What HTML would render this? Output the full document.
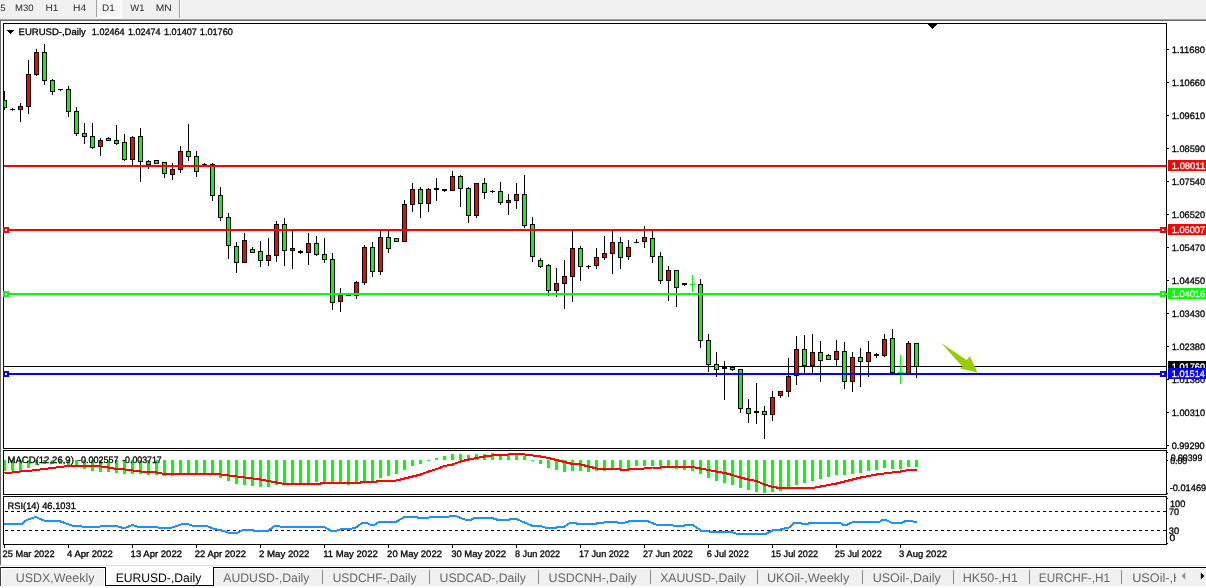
<!DOCTYPE html>
<html><head><meta charset="utf-8"><title>EURUSD-,Daily</title>
<style>
html,body{margin:0;padding:0;background:#fff;overflow:hidden}
svg{display:block;font-family:"Liberation Sans",sans-serif}
</style></head><body>
<svg width="1206" height="588" viewBox="0 0 1206 588" shape-rendering="crispEdges" text-rendering="geometricPrecision">
<rect x="0" y="0" width="1206" height="588" fill="#fff"/>
<rect x="0" y="0" width="1206" height="19" fill="#f0f0f0"/>
<rect x="0" y="19" width="1206" height="1" fill="#a0a0a0"/>
<rect x="0" y="20" width="1206" height="1" fill="#696969"/>
<rect x="0" y="20" width="1" height="545" fill="#696969"/>
<rect x="96" y="0" width="1" height="17" fill="#a0a0a0"/>
<defs><pattern id="ck" x="97" y="0" width="2" height="2" patternUnits="userSpaceOnUse"><rect width="2" height="2" fill="#fff"/><rect x="0" y="0" width="1" height="1" fill="#f0f0f0"/><rect x="1" y="1" width="1" height="1" fill="#f0f0f0"/></pattern></defs>
<rect x="97" y="0" width="24" height="17" fill="url(#ck)"/>
<rect x="97" y="17" width="25" height="1" fill="#fff"/>
<rect x="121" y="0" width="1" height="18" fill="#fff"/>
<rect x="179" y="0" width="1" height="18" fill="#a0a0a0"/>
<rect x="180" y="0" width="1" height="18" fill="#fff"/>
<text x="0.3" y="11.1" font-size="9.33" fill="#2a2a2a" stroke="#2a2a2a" stroke-width="0" textLength="5.3" lengthAdjust="spacingAndGlyphs">5</text>
<text x="15.04" y="11.1" font-size="9.33" fill="#2a2a2a" stroke="#2a2a2a" stroke-width="0" textLength="18.5" lengthAdjust="spacingAndGlyphs">M30</text>
<text x="45.59" y="11.1" font-size="9.33" fill="#2a2a2a" stroke="#2a2a2a" stroke-width="0" textLength="12.89" lengthAdjust="spacingAndGlyphs">H1</text>
<text x="72.97" y="11.1" font-size="9.33" fill="#2a2a2a" stroke="#2a2a2a" stroke-width="0" textLength="13.22" lengthAdjust="spacingAndGlyphs">H4</text>
<text x="102.01" y="11.1" font-size="9.33" fill="#2a2a2a" stroke="#2a2a2a" stroke-width="0" textLength="12.67" lengthAdjust="spacingAndGlyphs">D1</text>
<text x="130.2" y="11.1" font-size="9.33" fill="#2a2a2a" stroke="#2a2a2a" stroke-width="0" textLength="14.23" lengthAdjust="spacingAndGlyphs">W1</text>
<text x="155.78" y="11.1" font-size="9.33" fill="#2a2a2a" stroke="#2a2a2a" stroke-width="0" textLength="16.0" lengthAdjust="spacingAndGlyphs">MN</text>
<rect x="3" y="23" width="1164" height="1" fill="#000"/>
<rect x="3" y="448" width="1164" height="1" fill="#000"/>
<rect x="3" y="23" width="1" height="426" fill="#000"/>
<rect x="1166" y="23" width="1" height="426" fill="#000"/>
<rect x="3" y="450" width="1164" height="1" fill="#000"/>
<rect x="3" y="494" width="1164" height="1" fill="#000"/>
<rect x="3" y="450" width="1" height="45" fill="#000"/>
<rect x="1166" y="450" width="1" height="45" fill="#000"/>
<rect x="3" y="496" width="1164" height="1" fill="#000"/>
<rect x="3" y="544" width="1164" height="1" fill="#000"/>
<rect x="3" y="496" width="1" height="49" fill="#000"/>
<rect x="1166" y="496" width="1" height="49" fill="#000"/>
<rect x="928" y="24" width="9" height="1" fill="#000"/>
<rect x="929" y="25" width="7" height="1" fill="#000"/>
<rect x="930" y="26" width="5" height="1" fill="#000"/>
<rect x="931" y="27" width="3" height="1" fill="#000"/>
<rect x="932" y="28" width="1" height="1" fill="#000"/>
<rect x="4" y="366" width="1162" height="1" fill="#000"/>
<g id="candles">
<rect x="4" y="91" width="1" height="19" fill="#000"/>
<rect x="4" y="100" width="3" height="8" fill="#000"/>
<rect x="4" y="101" width="2" height="6" fill="#00ff00"/>
<rect x="12" y="108" width="1" height="3" fill="#000"/>
<rect x="10" y="109" width="5" height="1" fill="#000"/>
<rect x="20" y="103" width="1" height="19" fill="#000"/>
<rect x="18" y="106" width="5" height="4" fill="#000"/>
<rect x="19" y="107" width="3" height="2" fill="#ff0000"/>
<rect x="28" y="60" width="1" height="54" fill="#000"/>
<rect x="26" y="74" width="5" height="33" fill="#000"/>
<rect x="27" y="75" width="3" height="31" fill="#ff0000"/>
<rect x="36" y="49" width="1" height="27" fill="#000"/>
<rect x="34" y="52" width="5" height="23" fill="#000"/>
<rect x="35" y="53" width="3" height="21" fill="#ff0000"/>
<rect x="44" y="44" width="1" height="41" fill="#000"/>
<rect x="42" y="52" width="5" height="29" fill="#000"/>
<rect x="43" y="53" width="3" height="27" fill="#00ff00"/>
<rect x="52" y="79" width="1" height="16" fill="#000"/>
<rect x="50" y="80" width="5" height="12" fill="#000"/>
<rect x="51" y="81" width="3" height="10" fill="#00ff00"/>
<rect x="60" y="89" width="1" height="2" fill="#000"/>
<rect x="58" y="89" width="5" height="1" fill="#000"/>
<rect x="68" y="86" width="1" height="31" fill="#000"/>
<rect x="66" y="89" width="5" height="23" fill="#000"/>
<rect x="67" y="90" width="3" height="21" fill="#00ff00"/>
<rect x="76" y="107" width="1" height="29" fill="#000"/>
<rect x="74" y="111" width="5" height="23" fill="#000"/>
<rect x="75" y="112" width="3" height="21" fill="#00ff00"/>
<rect x="84" y="123" width="1" height="21" fill="#000"/>
<rect x="82" y="133" width="5" height="4" fill="#000"/>
<rect x="83" y="134" width="3" height="2" fill="#00ff00"/>
<rect x="92" y="123" width="1" height="26" fill="#000"/>
<rect x="90" y="136" width="5" height="12" fill="#000"/>
<rect x="91" y="137" width="3" height="10" fill="#00ff00"/>
<rect x="100" y="138" width="1" height="18" fill="#000"/>
<rect x="98" y="140" width="5" height="7" fill="#000"/>
<rect x="99" y="141" width="3" height="5" fill="#ff0000"/>
<rect x="108" y="137" width="1" height="4" fill="#000"/>
<rect x="106" y="138" width="5" height="3" fill="#000"/>
<rect x="107" y="139" width="3" height="1" fill="#00ff00"/>
<rect x="116" y="125" width="1" height="20" fill="#000"/>
<rect x="114" y="140" width="5" height="4" fill="#000"/>
<rect x="115" y="141" width="3" height="2" fill="#00ff00"/>
<rect x="124" y="134" width="1" height="27" fill="#000"/>
<rect x="122" y="142" width="5" height="18" fill="#000"/>
<rect x="123" y="143" width="3" height="16" fill="#00ff00"/>
<rect x="132" y="136" width="1" height="29" fill="#000"/>
<rect x="130" y="137" width="5" height="23" fill="#000"/>
<rect x="131" y="138" width="3" height="21" fill="#ff0000"/>
<rect x="140" y="128" width="1" height="54" fill="#000"/>
<rect x="138" y="136" width="5" height="26" fill="#000"/>
<rect x="139" y="137" width="3" height="24" fill="#00ff00"/>
<rect x="148" y="160" width="1" height="9" fill="#000"/>
<rect x="146" y="161" width="5" height="4" fill="#000"/>
<rect x="147" y="162" width="3" height="2" fill="#00ff00"/>
<rect x="156" y="160" width="1" height="4" fill="#000"/>
<rect x="154" y="160" width="5" height="4" fill="#000"/>
<rect x="155" y="161" width="3" height="2" fill="#00ff00"/>
<rect x="164" y="162" width="1" height="16" fill="#000"/>
<rect x="162" y="162" width="5" height="12" fill="#000"/>
<rect x="163" y="163" width="3" height="10" fill="#00ff00"/>
<rect x="172" y="163" width="1" height="17" fill="#000"/>
<rect x="170" y="169" width="5" height="6" fill="#000"/>
<rect x="171" y="170" width="3" height="4" fill="#ff0000"/>
<rect x="180" y="146" width="1" height="27" fill="#000"/>
<rect x="178" y="151" width="5" height="19" fill="#000"/>
<rect x="179" y="152" width="3" height="17" fill="#ff0000"/>
<rect x="188" y="124" width="1" height="37" fill="#000"/>
<rect x="186" y="151" width="5" height="6" fill="#000"/>
<rect x="187" y="152" width="3" height="4" fill="#00ff00"/>
<rect x="196" y="151" width="1" height="26" fill="#000"/>
<rect x="194" y="156" width="5" height="16" fill="#000"/>
<rect x="195" y="157" width="3" height="14" fill="#00ff00"/>
<rect x="204" y="163" width="1" height="2" fill="#000"/>
<rect x="202" y="164" width="5" height="1" fill="#000"/>
<rect x="212" y="163" width="1" height="38" fill="#000"/>
<rect x="210" y="164" width="5" height="32" fill="#000"/>
<rect x="211" y="165" width="3" height="30" fill="#00ff00"/>
<rect x="220" y="187" width="1" height="34" fill="#000"/>
<rect x="218" y="195" width="5" height="23" fill="#000"/>
<rect x="219" y="196" width="3" height="21" fill="#00ff00"/>
<rect x="228" y="213" width="1" height="46" fill="#000"/>
<rect x="226" y="217" width="5" height="29" fill="#000"/>
<rect x="227" y="218" width="3" height="27" fill="#00ff00"/>
<rect x="236" y="242" width="1" height="31" fill="#000"/>
<rect x="234" y="246" width="5" height="17" fill="#000"/>
<rect x="235" y="247" width="3" height="15" fill="#00ff00"/>
<rect x="244" y="233" width="1" height="30" fill="#000"/>
<rect x="242" y="240" width="5" height="23" fill="#000"/>
<rect x="243" y="241" width="3" height="21" fill="#ff0000"/>
<rect x="252" y="247" width="1" height="6" fill="#000"/>
<rect x="250" y="249" width="5" height="4" fill="#000"/>
<rect x="251" y="250" width="3" height="2" fill="#00ff00"/>
<rect x="260" y="241" width="1" height="26" fill="#000"/>
<rect x="258" y="251" width="5" height="10" fill="#000"/>
<rect x="259" y="252" width="3" height="8" fill="#00ff00"/>
<rect x="268" y="238" width="1" height="28" fill="#000"/>
<rect x="266" y="255" width="5" height="6" fill="#000"/>
<rect x="267" y="256" width="3" height="4" fill="#ff0000"/>
<rect x="276" y="221" width="1" height="41" fill="#000"/>
<rect x="274" y="224" width="5" height="32" fill="#000"/>
<rect x="275" y="225" width="3" height="30" fill="#ff0000"/>
<rect x="284" y="218" width="1" height="48" fill="#000"/>
<rect x="282" y="224" width="5" height="27" fill="#000"/>
<rect x="283" y="225" width="3" height="25" fill="#00ff00"/>
<rect x="292" y="231" width="1" height="38" fill="#000"/>
<rect x="290" y="248" width="5" height="3" fill="#000"/>
<rect x="291" y="249" width="3" height="1" fill="#ff0000"/>
<rect x="300" y="250" width="1" height="4" fill="#000"/>
<rect x="298" y="251" width="5" height="2" fill="#000"/>
<rect x="308" y="233" width="1" height="32" fill="#000"/>
<rect x="306" y="243" width="5" height="10" fill="#000"/>
<rect x="307" y="244" width="3" height="8" fill="#ff0000"/>
<rect x="316" y="236" width="1" height="20" fill="#000"/>
<rect x="314" y="243" width="5" height="12" fill="#000"/>
<rect x="315" y="244" width="3" height="10" fill="#00ff00"/>
<rect x="324" y="238" width="1" height="25" fill="#000"/>
<rect x="322" y="254" width="5" height="6" fill="#000"/>
<rect x="323" y="255" width="3" height="4" fill="#00ff00"/>
<rect x="332" y="253" width="1" height="57" fill="#000"/>
<rect x="330" y="259" width="5" height="44" fill="#000"/>
<rect x="331" y="260" width="3" height="42" fill="#00ff00"/>
<rect x="340" y="288" width="1" height="24" fill="#000"/>
<rect x="338" y="295" width="5" height="7" fill="#000"/>
<rect x="339" y="296" width="3" height="5" fill="#ff0000"/>
<rect x="348" y="295" width="1" height="1" fill="#000"/>
<rect x="346" y="295" width="5" height="1" fill="#000"/>
<rect x="356" y="281" width="1" height="18" fill="#000"/>
<rect x="354" y="282" width="5" height="14" fill="#000"/>
<rect x="355" y="283" width="3" height="12" fill="#ff0000"/>
<rect x="364" y="245" width="1" height="40" fill="#000"/>
<rect x="362" y="247" width="5" height="36" fill="#000"/>
<rect x="363" y="248" width="3" height="34" fill="#ff0000"/>
<rect x="372" y="242" width="1" height="35" fill="#000"/>
<rect x="370" y="247" width="5" height="25" fill="#000"/>
<rect x="371" y="248" width="3" height="23" fill="#00ff00"/>
<rect x="380" y="231" width="1" height="44" fill="#000"/>
<rect x="378" y="237" width="5" height="35" fill="#000"/>
<rect x="379" y="238" width="3" height="33" fill="#ff0000"/>
<rect x="388" y="231" width="1" height="22" fill="#000"/>
<rect x="386" y="237" width="5" height="12" fill="#000"/>
<rect x="387" y="238" width="3" height="10" fill="#00ff00"/>
<rect x="396" y="238" width="1" height="4" fill="#000"/>
<rect x="394" y="238" width="5" height="4" fill="#000"/>
<rect x="395" y="239" width="3" height="2" fill="#00ff00"/>
<rect x="404" y="200" width="1" height="42" fill="#000"/>
<rect x="402" y="204" width="5" height="38" fill="#000"/>
<rect x="403" y="205" width="3" height="36" fill="#ff0000"/>
<rect x="412" y="183" width="1" height="29" fill="#000"/>
<rect x="410" y="189" width="5" height="16" fill="#000"/>
<rect x="411" y="190" width="3" height="14" fill="#ff0000"/>
<rect x="420" y="187" width="1" height="31" fill="#000"/>
<rect x="418" y="189" width="5" height="15" fill="#000"/>
<rect x="419" y="190" width="3" height="13" fill="#00ff00"/>
<rect x="428" y="188" width="1" height="24" fill="#000"/>
<rect x="426" y="189" width="5" height="15" fill="#000"/>
<rect x="427" y="190" width="3" height="13" fill="#ff0000"/>
<rect x="436" y="178" width="1" height="23" fill="#000"/>
<rect x="434" y="188" width="5" height="2" fill="#000"/>
<rect x="444" y="189" width="1" height="3" fill="#000"/>
<rect x="442" y="189" width="5" height="2" fill="#000"/>
<rect x="452" y="171" width="1" height="20" fill="#000"/>
<rect x="450" y="176" width="5" height="15" fill="#000"/>
<rect x="451" y="177" width="3" height="13" fill="#ff0000"/>
<rect x="460" y="175" width="1" height="32" fill="#000"/>
<rect x="458" y="176" width="5" height="13" fill="#000"/>
<rect x="459" y="177" width="3" height="11" fill="#00ff00"/>
<rect x="468" y="187" width="1" height="36" fill="#000"/>
<rect x="466" y="188" width="5" height="28" fill="#000"/>
<rect x="467" y="189" width="3" height="26" fill="#00ff00"/>
<rect x="476" y="183" width="1" height="35" fill="#000"/>
<rect x="474" y="183" width="5" height="33" fill="#000"/>
<rect x="475" y="184" width="3" height="31" fill="#ff0000"/>
<rect x="484" y="178" width="1" height="21" fill="#000"/>
<rect x="482" y="183" width="5" height="10" fill="#000"/>
<rect x="483" y="184" width="3" height="8" fill="#00ff00"/>
<rect x="492" y="190" width="1" height="3" fill="#000"/>
<rect x="490" y="191" width="5" height="1" fill="#000"/>
<rect x="500" y="182" width="1" height="23" fill="#000"/>
<rect x="498" y="191" width="5" height="12" fill="#000"/>
<rect x="499" y="192" width="3" height="10" fill="#00ff00"/>
<rect x="508" y="194" width="1" height="21" fill="#000"/>
<rect x="506" y="200" width="5" height="3" fill="#000"/>
<rect x="507" y="201" width="3" height="1" fill="#ff0000"/>
<rect x="516" y="183" width="1" height="26" fill="#000"/>
<rect x="514" y="194" width="5" height="7" fill="#000"/>
<rect x="515" y="195" width="3" height="5" fill="#ff0000"/>
<rect x="524" y="175" width="1" height="53" fill="#000"/>
<rect x="522" y="194" width="5" height="32" fill="#000"/>
<rect x="523" y="195" width="3" height="30" fill="#00ff00"/>
<rect x="532" y="217" width="1" height="45" fill="#000"/>
<rect x="530" y="224" width="5" height="33" fill="#000"/>
<rect x="531" y="225" width="3" height="31" fill="#00ff00"/>
<rect x="540" y="258" width="1" height="10" fill="#000"/>
<rect x="538" y="260" width="5" height="7" fill="#000"/>
<rect x="539" y="261" width="3" height="5" fill="#00ff00"/>
<rect x="548" y="264" width="1" height="32" fill="#000"/>
<rect x="546" y="265" width="5" height="26" fill="#000"/>
<rect x="547" y="266" width="3" height="24" fill="#00ff00"/>
<rect x="556" y="268" width="1" height="29" fill="#000"/>
<rect x="554" y="283" width="5" height="8" fill="#000"/>
<rect x="555" y="284" width="3" height="6" fill="#ff0000"/>
<rect x="564" y="260" width="1" height="49" fill="#000"/>
<rect x="562" y="276" width="5" height="8" fill="#000"/>
<rect x="563" y="277" width="3" height="6" fill="#ff0000"/>
<rect x="572" y="231" width="1" height="71" fill="#000"/>
<rect x="570" y="248" width="5" height="29" fill="#000"/>
<rect x="571" y="249" width="3" height="27" fill="#ff0000"/>
<rect x="580" y="246" width="1" height="35" fill="#000"/>
<rect x="578" y="248" width="5" height="19" fill="#000"/>
<rect x="579" y="249" width="3" height="17" fill="#00ff00"/>
<rect x="588" y="265" width="1" height="4" fill="#000"/>
<rect x="586" y="266" width="5" height="1" fill="#000"/>
<rect x="596" y="248" width="1" height="21" fill="#000"/>
<rect x="594" y="257" width="5" height="9" fill="#000"/>
<rect x="595" y="258" width="3" height="7" fill="#ff0000"/>
<rect x="604" y="236" width="1" height="24" fill="#000"/>
<rect x="602" y="253" width="5" height="5" fill="#000"/>
<rect x="603" y="254" width="3" height="3" fill="#ff0000"/>
<rect x="612" y="231" width="1" height="43" fill="#000"/>
<rect x="610" y="242" width="5" height="12" fill="#000"/>
<rect x="611" y="243" width="3" height="10" fill="#ff0000"/>
<rect x="620" y="237" width="1" height="32" fill="#000"/>
<rect x="618" y="242" width="5" height="16" fill="#000"/>
<rect x="619" y="243" width="3" height="14" fill="#00ff00"/>
<rect x="628" y="240" width="1" height="20" fill="#000"/>
<rect x="626" y="247" width="5" height="10" fill="#000"/>
<rect x="627" y="248" width="3" height="8" fill="#ff0000"/>
<rect x="636" y="239" width="1" height="4" fill="#000"/>
<rect x="634" y="242" width="5" height="1" fill="#000"/>
<rect x="644" y="226" width="1" height="22" fill="#000"/>
<rect x="642" y="237" width="5" height="5" fill="#000"/>
<rect x="643" y="238" width="3" height="3" fill="#ff0000"/>
<rect x="652" y="231" width="1" height="32" fill="#000"/>
<rect x="650" y="238" width="5" height="19" fill="#000"/>
<rect x="651" y="239" width="3" height="17" fill="#00ff00"/>
<rect x="660" y="252" width="1" height="32" fill="#000"/>
<rect x="658" y="256" width="5" height="25" fill="#000"/>
<rect x="659" y="257" width="3" height="23" fill="#00ff00"/>
<rect x="668" y="266" width="1" height="35" fill="#000"/>
<rect x="666" y="270" width="5" height="11" fill="#000"/>
<rect x="667" y="271" width="3" height="9" fill="#ff0000"/>
<rect x="676" y="270" width="1" height="37" fill="#000"/>
<rect x="674" y="270" width="5" height="18" fill="#000"/>
<rect x="675" y="271" width="3" height="16" fill="#00ff00"/>
<rect x="684" y="283" width="1" height="3" fill="#000"/>
<rect x="682" y="283" width="5" height="2" fill="#000"/>
<rect x="692" y="275" width="1" height="17" fill="#00ff00"/>
<rect x="690" y="284" width="5" height="1" fill="#00ff00"/>
<rect x="700" y="279" width="1" height="69" fill="#000"/>
<rect x="698" y="284" width="5" height="57" fill="#000"/>
<rect x="699" y="285" width="3" height="55" fill="#00ff00"/>
<rect x="708" y="334" width="1" height="38" fill="#000"/>
<rect x="706" y="340" width="5" height="25" fill="#000"/>
<rect x="707" y="341" width="3" height="23" fill="#00ff00"/>
<rect x="716" y="352" width="1" height="25" fill="#000"/>
<rect x="714" y="364" width="5" height="6" fill="#000"/>
<rect x="715" y="365" width="3" height="4" fill="#00ff00"/>
<rect x="724" y="361" width="1" height="39" fill="#000"/>
<rect x="722" y="366" width="5" height="3" fill="#000"/>
<rect x="732" y="367" width="1" height="4" fill="#000"/>
<rect x="730" y="367" width="5" height="3" fill="#000"/>
<rect x="731" y="368" width="3" height="1" fill="#00ff00"/>
<rect x="740" y="369" width="1" height="44" fill="#000"/>
<rect x="738" y="369" width="5" height="40" fill="#000"/>
<rect x="739" y="370" width="3" height="38" fill="#00ff00"/>
<rect x="748" y="399" width="1" height="24" fill="#000"/>
<rect x="746" y="408" width="5" height="6" fill="#000"/>
<rect x="747" y="409" width="3" height="4" fill="#00ff00"/>
<rect x="756" y="383" width="1" height="41" fill="#000"/>
<rect x="754" y="411" width="5" height="2" fill="#000"/>
<rect x="764" y="406" width="1" height="33" fill="#000"/>
<rect x="762" y="411" width="5" height="4" fill="#000"/>
<rect x="763" y="412" width="3" height="2" fill="#00ff00"/>
<rect x="772" y="391" width="1" height="30" fill="#000"/>
<rect x="770" y="397" width="5" height="18" fill="#000"/>
<rect x="771" y="398" width="3" height="16" fill="#ff0000"/>
<rect x="780" y="391" width="1" height="7" fill="#000"/>
<rect x="778" y="391" width="5" height="5" fill="#000"/>
<rect x="779" y="392" width="3" height="3" fill="#ff0000"/>
<rect x="788" y="358" width="1" height="39" fill="#000"/>
<rect x="786" y="376" width="5" height="16" fill="#000"/>
<rect x="787" y="377" width="3" height="14" fill="#ff0000"/>
<rect x="796" y="336" width="1" height="49" fill="#000"/>
<rect x="794" y="349" width="5" height="27" fill="#000"/>
<rect x="795" y="350" width="3" height="25" fill="#ff0000"/>
<rect x="804" y="335" width="1" height="38" fill="#000"/>
<rect x="802" y="349" width="5" height="17" fill="#000"/>
<rect x="803" y="350" width="3" height="15" fill="#00ff00"/>
<rect x="812" y="334" width="1" height="39" fill="#000"/>
<rect x="810" y="352" width="5" height="14" fill="#000"/>
<rect x="811" y="353" width="3" height="12" fill="#ff0000"/>
<rect x="820" y="341" width="1" height="41" fill="#000"/>
<rect x="818" y="352" width="5" height="9" fill="#000"/>
<rect x="819" y="353" width="3" height="7" fill="#00ff00"/>
<rect x="828" y="354" width="1" height="6" fill="#000"/>
<rect x="826" y="355" width="5" height="5" fill="#000"/>
<rect x="827" y="356" width="3" height="3" fill="#00ff00"/>
<rect x="836" y="340" width="1" height="27" fill="#000"/>
<rect x="834" y="351" width="5" height="9" fill="#000"/>
<rect x="835" y="352" width="3" height="7" fill="#ff0000"/>
<rect x="844" y="342" width="1" height="47" fill="#000"/>
<rect x="842" y="351" width="5" height="31" fill="#000"/>
<rect x="843" y="352" width="3" height="29" fill="#00ff00"/>
<rect x="852" y="352" width="1" height="40" fill="#000"/>
<rect x="850" y="357" width="5" height="25" fill="#000"/>
<rect x="851" y="358" width="3" height="23" fill="#ff0000"/>
<rect x="860" y="348" width="1" height="39" fill="#000"/>
<rect x="858" y="357" width="5" height="5" fill="#000"/>
<rect x="859" y="358" width="3" height="3" fill="#00ff00"/>
<rect x="868" y="341" width="1" height="36" fill="#000"/>
<rect x="866" y="352" width="5" height="10" fill="#000"/>
<rect x="867" y="353" width="3" height="8" fill="#ff0000"/>
<rect x="876" y="353" width="1" height="5" fill="#000"/>
<rect x="874" y="354" width="5" height="2" fill="#000"/>
<rect x="884" y="334" width="1" height="23" fill="#000"/>
<rect x="882" y="339" width="5" height="17" fill="#000"/>
<rect x="883" y="340" width="3" height="15" fill="#ff0000"/>
<rect x="892" y="329" width="1" height="44" fill="#000"/>
<rect x="890" y="338" width="5" height="35" fill="#000"/>
<rect x="891" y="339" width="3" height="33" fill="#00ff00"/>
<rect x="900" y="355" width="1" height="29" fill="#00ff00"/>
<rect x="898" y="372" width="5" height="1" fill="#00ff00"/>
<rect x="908" y="341" width="1" height="33" fill="#000"/>
<rect x="906" y="343" width="5" height="31" fill="#000"/>
<rect x="907" y="344" width="3" height="29" fill="#ff0000"/>
<rect x="916" y="343" width="1" height="35" fill="#000"/>
<rect x="914" y="343" width="5" height="24" fill="#000"/>
<rect x="915" y="344" width="3" height="22" fill="#00ff00"/>
</g>
<rect x="4" y="165" width="1162" height="2" fill="#ff0000"/>
<rect x="4" y="229" width="1163" height="2" fill="#ff0000"/>
<rect x="3" y="227" width="6" height="6" fill="#ff0000"/>
<rect x="5" y="229" width="2" height="2" fill="#fff"/>
<rect x="1160" y="227" width="6" height="6" fill="#ff0000"/>
<rect x="1162" y="229" width="2" height="2" fill="#fff"/>
<rect x="4" y="293" width="1163" height="2" fill="#00ff00"/>
<rect x="3" y="291" width="6" height="6" fill="#00ff00"/>
<rect x="5" y="293" width="2" height="2" fill="#fff"/>
<rect x="1160" y="291" width="6" height="6" fill="#00ff00"/>
<rect x="1162" y="293" width="2" height="2" fill="#fff"/>
<rect x="4" y="373" width="1163" height="2" fill="#0000ff"/>
<rect x="3" y="371" width="6" height="6" fill="#0000ff"/>
<rect x="5" y="373" width="2" height="2" fill="#fff"/>
<rect x="1160" y="371" width="6" height="6" fill="#0000ff"/>
<rect x="1162" y="373" width="2" height="2" fill="#fff"/>
<polygon points="941.1,343 966.6,360.1 969.9,356.3 977.6,372.6 960.2,368.4 962.1,366.2" fill="#99cc00" shape-rendering="geometricPrecision"/>
<rect x="1167" y="49" width="2" height="1" fill="#000"/>
<text x="1171.69" y="52.6" font-size="9.33" fill="#000" stroke="#000" stroke-width="0.3" textLength="33.34" lengthAdjust="spacingAndGlyphs">1.11680</text>
<rect x="1167" y="82" width="2" height="1" fill="#000"/>
<text x="1171.71" y="85.6" font-size="9.33" fill="#000" stroke="#000" stroke-width="0.3" textLength="33.31" lengthAdjust="spacingAndGlyphs">1.10660</text>
<rect x="1167" y="115" width="2" height="1" fill="#000"/>
<text x="1171.71" y="118.6" font-size="9.33" fill="#000" stroke="#000" stroke-width="0.3" textLength="33.31" lengthAdjust="spacingAndGlyphs">1.09610</text>
<rect x="1167" y="148" width="2" height="1" fill="#000"/>
<text x="1171.71" y="151.6" font-size="9.33" fill="#000" stroke="#000" stroke-width="0.3" textLength="33.31" lengthAdjust="spacingAndGlyphs">1.08590</text>
<rect x="1167" y="181" width="2" height="1" fill="#000"/>
<text x="1171.71" y="184.6" font-size="9.33" fill="#000" stroke="#000" stroke-width="0.3" textLength="33.31" lengthAdjust="spacingAndGlyphs">1.07540</text>
<rect x="1167" y="214" width="2" height="1" fill="#000"/>
<text x="1171.71" y="217.6" font-size="9.33" fill="#000" stroke="#000" stroke-width="0.3" textLength="33.31" lengthAdjust="spacingAndGlyphs">1.06520</text>
<rect x="1167" y="247" width="2" height="1" fill="#000"/>
<text x="1171.71" y="250.6" font-size="9.33" fill="#000" stroke="#000" stroke-width="0.3" textLength="33.31" lengthAdjust="spacingAndGlyphs">1.05470</text>
<rect x="1167" y="280" width="2" height="1" fill="#000"/>
<text x="1171.71" y="283.6" font-size="9.33" fill="#000" stroke="#000" stroke-width="0.3" textLength="33.31" lengthAdjust="spacingAndGlyphs">1.04450</text>
<rect x="1167" y="313" width="2" height="1" fill="#000"/>
<text x="1171.71" y="316.6" font-size="9.33" fill="#000" stroke="#000" stroke-width="0.3" textLength="33.31" lengthAdjust="spacingAndGlyphs">1.03430</text>
<rect x="1167" y="346" width="2" height="1" fill="#000"/>
<text x="1171.71" y="349.6" font-size="9.33" fill="#000" stroke="#000" stroke-width="0.3" textLength="33.31" lengthAdjust="spacingAndGlyphs">1.02380</text>
<rect x="1167" y="379" width="2" height="1" fill="#000"/>
<text x="1171.71" y="382.6" font-size="9.33" fill="#000" stroke="#000" stroke-width="0.3" textLength="33.31" lengthAdjust="spacingAndGlyphs">1.01360</text>
<rect x="1167" y="412" width="2" height="1" fill="#000"/>
<text x="1171.71" y="415.6" font-size="9.33" fill="#000" stroke="#000" stroke-width="0.3" textLength="33.31" lengthAdjust="spacingAndGlyphs">1.00310</text>
<rect x="1167" y="445" width="2" height="1" fill="#000"/>
<text x="1171.68" y="448.6" font-size="9.33" fill="#000" stroke="#000" stroke-width="0.3" textLength="33.04" lengthAdjust="spacingAndGlyphs">0.99290</text>
<rect x="1168" y="160" width="38" height="11" fill="#ff0000"/>
<text x="1171.79" y="169.1" font-size="9.33" fill="#fff" stroke="#fff" stroke-width="0.3" textLength="33.34" lengthAdjust="spacingAndGlyphs">1.08011</text>
<rect x="1168" y="224" width="38" height="11" fill="#ff0000"/>
<text x="1171.81" y="233.1" font-size="9.33" fill="#fff" stroke="#fff" stroke-width="0.3" textLength="33.3" lengthAdjust="spacingAndGlyphs">1.06007</text>
<rect x="1168" y="288" width="38" height="11" fill="#00ff00"/>
<text x="1171.81" y="297.1" font-size="9.33" fill="#fff" stroke="#fff" stroke-width="0.3" textLength="33.26" lengthAdjust="spacingAndGlyphs">1.04016</text>
<rect x="1168" y="361" width="38" height="11" fill="#000"/>
<text x="1171.81" y="370.1" font-size="9.33" fill="#fff" stroke="#fff" stroke-width="0.3" textLength="33.21" lengthAdjust="spacingAndGlyphs">1.01760</text>
<rect x="1168" y="368" width="38" height="11" fill="#0000ff"/>
<text x="1171.81" y="377.1" font-size="9.33" fill="#fff" stroke="#fff" stroke-width="0.3" textLength="33.11" lengthAdjust="spacingAndGlyphs">1.01514</text>
<text x="18.54" y="34.6" font-size="9.33" fill="#000" stroke="#000" stroke-width="0.3" textLength="67.28" lengthAdjust="spacingAndGlyphs">EURUSD-,Daily</text>
<text x="91.82" y="34.6" font-size="9.33" fill="#000" stroke="#000" stroke-width="0.3" textLength="32.81" lengthAdjust="spacingAndGlyphs">1.02464</text>
<text x="127.92" y="34.6" font-size="9.33" fill="#000" stroke="#000" stroke-width="0.3" textLength="32.7" lengthAdjust="spacingAndGlyphs">1.02474</text>
<text x="164.02" y="34.6" font-size="9.33" fill="#000" stroke="#000" stroke-width="0.3" textLength="32.89" lengthAdjust="spacingAndGlyphs">1.01407</text>
<text x="199.81" y="34.6" font-size="9.33" fill="#000" stroke="#000" stroke-width="0.3" textLength="33.11" lengthAdjust="spacingAndGlyphs">1.01760</text>
<rect x="7" y="30" width="7" height="1" fill="#000"/>
<rect x="8" y="31" width="5" height="1" fill="#000"/>
<rect x="9" y="32" width="3" height="1" fill="#000"/>
<rect x="10" y="33" width="1" height="1" fill="#000"/>
<rect x="4" y="460" width="2" height="11" fill="#00ff00"/>
<rect x="11" y="460" width="3" height="11" fill="#00ff00"/>
<rect x="19" y="460" width="3" height="11" fill="#00ff00"/>
<rect x="27" y="460" width="3" height="8" fill="#00ff00"/>
<rect x="35" y="460" width="3" height="5" fill="#00ff00"/>
<rect x="43" y="460" width="3" height="4" fill="#00ff00"/>
<rect x="51" y="460" width="3" height="4" fill="#00ff00"/>
<rect x="59" y="460" width="3" height="4" fill="#00ff00"/>
<rect x="67" y="460" width="3" height="5" fill="#00ff00"/>
<rect x="75" y="460" width="3" height="5" fill="#00ff00"/>
<rect x="83" y="460" width="3" height="9" fill="#00ff00"/>
<rect x="91" y="460" width="3" height="11" fill="#00ff00"/>
<rect x="99" y="460" width="3" height="12" fill="#00ff00"/>
<rect x="107" y="460" width="3" height="12" fill="#00ff00"/>
<rect x="115" y="460" width="3" height="13" fill="#00ff00"/>
<rect x="123" y="460" width="3" height="14" fill="#00ff00"/>
<rect x="131" y="460" width="3" height="14" fill="#00ff00"/>
<rect x="139" y="460" width="3" height="14" fill="#00ff00"/>
<rect x="147" y="460" width="3" height="15" fill="#00ff00"/>
<rect x="155" y="460" width="3" height="15" fill="#00ff00"/>
<rect x="163" y="460" width="3" height="16" fill="#00ff00"/>
<rect x="171" y="460" width="3" height="16" fill="#00ff00"/>
<rect x="179" y="460" width="3" height="15" fill="#00ff00"/>
<rect x="187" y="460" width="3" height="15" fill="#00ff00"/>
<rect x="195" y="460" width="3" height="15" fill="#00ff00"/>
<rect x="203" y="460" width="3" height="15" fill="#00ff00"/>
<rect x="211" y="460" width="3" height="15" fill="#00ff00"/>
<rect x="219" y="460" width="3" height="18" fill="#00ff00"/>
<rect x="227" y="460" width="3" height="21" fill="#00ff00"/>
<rect x="235" y="460" width="3" height="24" fill="#00ff00"/>
<rect x="243" y="460" width="3" height="25" fill="#00ff00"/>
<rect x="251" y="460" width="3" height="26" fill="#00ff00"/>
<rect x="259" y="460" width="3" height="27" fill="#00ff00"/>
<rect x="267" y="460" width="3" height="27" fill="#00ff00"/>
<rect x="275" y="460" width="3" height="25" fill="#00ff00"/>
<rect x="283" y="460" width="3" height="24" fill="#00ff00"/>
<rect x="291" y="460" width="3" height="23" fill="#00ff00"/>
<rect x="299" y="460" width="3" height="23" fill="#00ff00"/>
<rect x="307" y="460" width="3" height="23" fill="#00ff00"/>
<rect x="315" y="460" width="3" height="22" fill="#00ff00"/>
<rect x="323" y="460" width="3" height="22" fill="#00ff00"/>
<rect x="331" y="460" width="3" height="22" fill="#00ff00"/>
<rect x="339" y="460" width="3" height="22" fill="#00ff00"/>
<rect x="347" y="460" width="3" height="25" fill="#00ff00"/>
<rect x="355" y="460" width="3" height="22" fill="#00ff00"/>
<rect x="363" y="460" width="3" height="22" fill="#00ff00"/>
<rect x="371" y="460" width="3" height="21" fill="#00ff00"/>
<rect x="379" y="460" width="3" height="18" fill="#00ff00"/>
<rect x="387" y="460" width="3" height="16" fill="#00ff00"/>
<rect x="395" y="460" width="3" height="14" fill="#00ff00"/>
<rect x="403" y="460" width="3" height="10" fill="#00ff00"/>
<rect x="411" y="460" width="3" height="6" fill="#00ff00"/>
<rect x="419" y="460" width="3" height="4" fill="#00ff00"/>
<rect x="427" y="460" width="3" height="1" fill="#00ff00"/>
<rect x="435" y="458" width="3" height="2" fill="#00ff00"/>
<rect x="443" y="456" width="3" height="4" fill="#00ff00"/>
<rect x="451" y="454" width="3" height="6" fill="#00ff00"/>
<rect x="459" y="454" width="3" height="6" fill="#00ff00"/>
<rect x="467" y="455" width="3" height="5" fill="#00ff00"/>
<rect x="475" y="454" width="3" height="6" fill="#00ff00"/>
<rect x="483" y="454" width="3" height="6" fill="#00ff00"/>
<rect x="491" y="453" width="3" height="7" fill="#00ff00"/>
<rect x="499" y="455" width="3" height="5" fill="#00ff00"/>
<rect x="507" y="455" width="3" height="5" fill="#00ff00"/>
<rect x="515" y="455" width="3" height="5" fill="#00ff00"/>
<rect x="523" y="456" width="3" height="4" fill="#00ff00"/>
<rect x="531" y="460" width="3" height="1" fill="#00ff00"/>
<rect x="539" y="460" width="3" height="4" fill="#00ff00"/>
<rect x="547" y="460" width="3" height="8" fill="#00ff00"/>
<rect x="555" y="460" width="3" height="10" fill="#00ff00"/>
<rect x="563" y="460" width="3" height="12" fill="#00ff00"/>
<rect x="571" y="460" width="3" height="11" fill="#00ff00"/>
<rect x="579" y="460" width="3" height="11" fill="#00ff00"/>
<rect x="587" y="460" width="3" height="12" fill="#00ff00"/>
<rect x="595" y="460" width="3" height="11" fill="#00ff00"/>
<rect x="603" y="460" width="3" height="11" fill="#00ff00"/>
<rect x="611" y="460" width="3" height="10" fill="#00ff00"/>
<rect x="619" y="460" width="3" height="10" fill="#00ff00"/>
<rect x="627" y="460" width="3" height="9" fill="#00ff00"/>
<rect x="635" y="460" width="3" height="6" fill="#00ff00"/>
<rect x="643" y="460" width="3" height="6" fill="#00ff00"/>
<rect x="651" y="460" width="3" height="6" fill="#00ff00"/>
<rect x="659" y="460" width="3" height="6" fill="#00ff00"/>
<rect x="667" y="460" width="3" height="6" fill="#00ff00"/>
<rect x="675" y="460" width="3" height="9" fill="#00ff00"/>
<rect x="683" y="460" width="3" height="10" fill="#00ff00"/>
<rect x="691" y="460" width="3" height="11" fill="#00ff00"/>
<rect x="699" y="460" width="3" height="14" fill="#00ff00"/>
<rect x="707" y="460" width="3" height="18" fill="#00ff00"/>
<rect x="715" y="460" width="3" height="21" fill="#00ff00"/>
<rect x="723" y="460" width="3" height="23" fill="#00ff00"/>
<rect x="731" y="460" width="3" height="25" fill="#00ff00"/>
<rect x="739" y="460" width="3" height="28" fill="#00ff00"/>
<rect x="747" y="460" width="3" height="30" fill="#00ff00"/>
<rect x="755" y="460" width="3" height="32" fill="#00ff00"/>
<rect x="763" y="460" width="3" height="33" fill="#00ff00"/>
<rect x="771" y="460" width="3" height="32" fill="#00ff00"/>
<rect x="779" y="460" width="3" height="31" fill="#00ff00"/>
<rect x="787" y="460" width="3" height="27" fill="#00ff00"/>
<rect x="795" y="460" width="3" height="25" fill="#00ff00"/>
<rect x="803" y="460" width="3" height="23" fill="#00ff00"/>
<rect x="811" y="460" width="3" height="21" fill="#00ff00"/>
<rect x="819" y="460" width="3" height="19" fill="#00ff00"/>
<rect x="827" y="460" width="3" height="17" fill="#00ff00"/>
<rect x="835" y="460" width="3" height="15" fill="#00ff00"/>
<rect x="843" y="460" width="3" height="15" fill="#00ff00"/>
<rect x="851" y="460" width="3" height="14" fill="#00ff00"/>
<rect x="859" y="460" width="3" height="13" fill="#00ff00"/>
<rect x="867" y="460" width="3" height="11" fill="#00ff00"/>
<rect x="875" y="460" width="3" height="10" fill="#00ff00"/>
<rect x="883" y="460" width="3" height="8" fill="#00ff00"/>
<rect x="891" y="460" width="3" height="9" fill="#00ff00"/>
<rect x="899" y="460" width="3" height="9" fill="#00ff00"/>
<rect x="907" y="460" width="3" height="7" fill="#00ff00"/>
<rect x="915" y="460" width="3" height="7" fill="#00ff00"/>
<polyline fill="none" stroke="#ff0000" stroke-width="2" points="4.5,473.0 12.5,472.5 20.5,471.5 28.5,471.0 36.5,470.0 44.5,469.0 52.5,468.0 60.5,467.0 68.5,466.0 76.5,466.0 84.5,466.0 92.5,466.0 100.5,466.5 108.5,467.5 116.5,469.0 124.5,469.5 132.5,470.5 140.5,471.5 148.5,472.0 156.5,472.5 164.5,474.0 172.5,474.0 180.5,474.0 188.5,474.0 196.5,474.0 204.5,474.0 212.5,474.0 220.5,474.5 228.5,475.5 236.5,476.5 244.5,477.5 252.5,478.5 260.5,479.5 268.5,481.0 276.5,482.5 284.5,484.0 292.5,484.0 300.5,484.0 308.5,484.0 316.5,484.0 324.5,483.0 332.5,483.0 340.5,483.0 348.5,483.0 356.5,483.0 364.5,482.0 372.5,482.0 380.5,481.0 388.5,481.0 396.5,480.5 404.5,478.5 412.5,476.5 420.5,474.5 428.5,471.5 436.5,469.0 444.5,466.0 452.5,464.5 460.5,461.5 468.5,459.5 476.5,458.0 484.5,456.5 492.5,455.5 500.5,455.0 508.5,454.5 516.5,454.0 524.5,454.5 532.5,455.5 540.5,456.5 548.5,458.0 556.5,460.0 564.5,462.0 572.5,464.0 580.5,464.5 588.5,466.5 596.5,468.5 604.5,469.0 612.5,469.0 620.5,469.5 628.5,469.5 636.5,469.0 644.5,468.5 652.5,467.5 660.5,467.5 668.5,467.0 676.5,466.5 684.5,466.5 692.5,467.0 700.5,468.5 708.5,470.0 716.5,471.5 724.5,473.0 732.5,475.0 740.5,477.5 748.5,479.5 756.5,481.0 764.5,484.5 772.5,487.0 780.5,488.0 788.5,488.0 796.5,488.0 804.5,488.0 812.5,488.0 820.5,486.5 828.5,485.0 836.5,483.5 844.5,481.5 852.5,479.5 860.5,477.5 868.5,476.0 876.5,474.5 884.5,473.5 892.5,472.5 900.5,471.5 908.5,470.0 916.5,470.0"/>
<text x="7.54" y="463.3" font-size="9.33" fill="#000" stroke="#000" stroke-width="0.3" textLength="66.31" lengthAdjust="spacingAndGlyphs">MACD(12,26,9)</text>
<text x="77.94" y="463.3" font-size="9.33" fill="#000" stroke="#000" stroke-width="0.3" textLength="40.46" lengthAdjust="spacingAndGlyphs">-0.002557</text>
<text x="122.15" y="463.3" font-size="9.33" fill="#000" stroke="#000" stroke-width="0.3" textLength="39.54" lengthAdjust="spacingAndGlyphs">-0.003717</text>
<rect x="1167" y="452" width="1" height="1" fill="#000"/>
<rect x="1167" y="460" width="1" height="1" fill="#000"/>
<rect x="1167" y="493" width="1" height="1" fill="#000"/>
<text x="1170.69" y="460.5" font-size="9.33" fill="#000" stroke="#000" stroke-width="0.3" textLength="31.7" lengthAdjust="spacingAndGlyphs">0.00399</text>
<text x="1170.2" y="463.8" font-size="9.33" fill="#000" stroke="#000" stroke-width="0.3" textLength="16.92" lengthAdjust="spacingAndGlyphs">0.00</text>
<text x="1169.63" y="490.8" font-size="9.33" fill="#000" stroke="#000" stroke-width="0.3" textLength="36.62" lengthAdjust="spacingAndGlyphs">-0.01469</text>
<line x1="5" y1="511.5" x2="1166" y2="511.5" stroke="#000" stroke-width="1" stroke-dasharray="3 3"/>
<line x1="5" y1="530.5" x2="1166" y2="530.5" stroke="#000" stroke-width="1" stroke-dasharray="3 3"/>
<polyline fill="none" stroke="#1e90ff" stroke-width="2" points="4,524.2 21.6,524.2 26.5,520 35.7,517 44.8,520.9 59.7,521.2 73,525.9 84.6,526.7 99.5,526.7 102.8,525.9 116,525.9 122.7,527.8 126,527.5 132.7,525 137.6,526.7 155.9,526.7 159.2,527.8 172.5,527.5 182.4,523.9 187.4,523.9 193.5,525.9 206.6,525.9 213.2,528.7 219.9,530 228.1,532.5 238.1,532.5 243.1,530 251.4,530 254.7,530.8 267.9,530.8 274.6,526.2 279.6,526.2 281.2,527 324.3,527 331,530.8 335.9,530.8 340.9,529.2 349.2,529.2 355.8,527.5 362.5,522.9 366.6,522.9 370.8,525 374,525 379,522 395.8,522 404.9,516.7 415.7,516.7 418.1,517.9 428.1,517.9 430.6,517.1 448,517.1 450.5,515.9 455.5,515.9 466.2,520 470.4,520 474.5,517.9 491.9,517.9 497.7,520 508.5,520 511,518.9 516,518.9 532.6,525.9 540,525.9 545.8,527.8 555.8,527.8 557.4,526.7 564.1,526.7 570.7,522.6 575,522.8 577.5,523.9 595.7,523.9 598.2,522.9 603.2,522.9 605.7,521.7 615.6,521.7 618.1,522.9 623.9,522.9 630.5,520.9 647.1,520.9 656.2,524.7 671.2,524.7 673.6,525.9 683.6,525.9 686.1,524.7 692.7,524.7 701,530.8 707.6,530.8 709.3,531.7 730.9,531.7 736.7,533.8 765.8,533.8 773.3,530 779.9,530 781.6,528.8 784,528.8 785.7,527.8 789,527.5 794.8,522.5 799.8,522.5 801.5,523.7 808.1,523.7 809.8,522.5 839.6,522.5 842.9,524.7 847.1,524.7 853.7,521.7 879.4,521.7 882.7,520 886,520 891,522.5 902.6,522.5 905.9,520.9 911.7,520.9 913.4,521.7 916.7,521.7"/>
<text x="7.56" y="508.9" font-size="9.33" fill="#000" stroke="#000" stroke-width="0.3" textLength="68.29" lengthAdjust="spacingAndGlyphs">RSI(14) 46.1031</text>
<rect x="1167" y="498" width="1" height="1" fill="#000"/>
<rect x="1167" y="543" width="1" height="1" fill="#000"/>
<text x="1170.01" y="506.9" font-size="9.33" fill="#000" stroke="#000" stroke-width="0.3" textLength="15.34" lengthAdjust="spacingAndGlyphs">100</text>
<text x="1169.04" y="514.9" font-size="9.33" fill="#000" stroke="#000" stroke-width="0.3" textLength="10.2" lengthAdjust="spacingAndGlyphs">70</text>
<text x="1168.87" y="533.8" font-size="9.33" fill="#000" stroke="#000" stroke-width="0.3" textLength="10.37" lengthAdjust="spacingAndGlyphs">30</text>
<text x="1169.64" y="540.9" font-size="9.33" fill="#000" stroke="#000" stroke-width="0.3" textLength="5.73" lengthAdjust="spacingAndGlyphs">0</text>
<rect x="4" y="545" width="1" height="3" fill="#000"/>
<text x="2.54" y="556.8" font-size="9.33" fill="#000" stroke="#000" stroke-width="0.3" textLength="52.08" lengthAdjust="spacingAndGlyphs">25 Mar 2022</text>
<rect x="68" y="545" width="1" height="3" fill="#000"/>
<text x="67.01" y="556.8" font-size="9.33" fill="#000" stroke="#000" stroke-width="0.3" textLength="45.84" lengthAdjust="spacingAndGlyphs">4 Apr 2022</text>
<rect x="132" y="545" width="1" height="3" fill="#000"/>
<text x="130.58" y="556.8" font-size="9.33" fill="#000" stroke="#000" stroke-width="0.3" textLength="51.43" lengthAdjust="spacingAndGlyphs">13 Apr 2022</text>
<rect x="196" y="545" width="1" height="3" fill="#000"/>
<text x="194.83" y="556.8" font-size="9.33" fill="#000" stroke="#000" stroke-width="0.3" textLength="51.09" lengthAdjust="spacingAndGlyphs">22 Apr 2022</text>
<rect x="260" y="545" width="1" height="3" fill="#000"/>
<text x="259.02" y="556.8" font-size="9.33" fill="#000" stroke="#000" stroke-width="0.3" textLength="50.42" lengthAdjust="spacingAndGlyphs">2 May 2022</text>
<rect x="324" y="545" width="1" height="3" fill="#000"/>
<text x="323.18" y="556.8" font-size="9.33" fill="#000" stroke="#000" stroke-width="0.3" textLength="54.67" lengthAdjust="spacingAndGlyphs">11 May 2022</text>
<rect x="388" y="545" width="1" height="3" fill="#000"/>
<text x="387.13" y="556.8" font-size="9.33" fill="#000" stroke="#000" stroke-width="0.3" textLength="54.82" lengthAdjust="spacingAndGlyphs">20 May 2022</text>
<rect x="452" y="545" width="1" height="3" fill="#000"/>
<text x="451.17" y="556.8" font-size="9.33" fill="#000" stroke="#000" stroke-width="0.3" textLength="54.78" lengthAdjust="spacingAndGlyphs">30 May 2022</text>
<rect x="516" y="545" width="1" height="3" fill="#000"/>
<text x="515.04" y="556.8" font-size="9.33" fill="#000" stroke="#000" stroke-width="0.3" textLength="45.06" lengthAdjust="spacingAndGlyphs">8 Jun 2022</text>
<rect x="580" y="545" width="1" height="3" fill="#000"/>
<text x="578.92" y="556.8" font-size="9.33" fill="#000" stroke="#000" stroke-width="0.3" textLength="50.09" lengthAdjust="spacingAndGlyphs">17 Jun 2022</text>
<rect x="644" y="545" width="1" height="3" fill="#000"/>
<text x="643.05" y="556.8" font-size="9.33" fill="#000" stroke="#000" stroke-width="0.3" textLength="49.66" lengthAdjust="spacingAndGlyphs">27 Jun 2022</text>
<rect x="708" y="545" width="1" height="3" fill="#000"/>
<text x="706.75" y="556.8" font-size="9.33" fill="#000" stroke="#000" stroke-width="0.3" textLength="41.96" lengthAdjust="spacingAndGlyphs">6 Jul 2022</text>
<rect x="772" y="545" width="1" height="3" fill="#000"/>
<text x="770.92" y="556.8" font-size="9.33" fill="#000" stroke="#000" stroke-width="0.3" textLength="47.2" lengthAdjust="spacingAndGlyphs">15 Jul 2022</text>
<rect x="836" y="545" width="1" height="3" fill="#000"/>
<text x="834.85" y="556.8" font-size="9.33" fill="#000" stroke="#000" stroke-width="0.3" textLength="46.87" lengthAdjust="spacingAndGlyphs">25 Jul 2022</text>
<rect x="900" y="545" width="1" height="3" fill="#000"/>
<text x="898.97" y="556.8" font-size="9.33" fill="#000" stroke="#000" stroke-width="0.3" textLength="47.96" lengthAdjust="spacingAndGlyphs">3 Aug 2022</text>
<rect x="0" y="565" width="1206" height="1" fill="#e3e3e3"/>
<rect x="0" y="567" width="1206" height="1" fill="#000"/>
<rect x="0" y="569" width="1206" height="17" fill="#f0f0f0"/>
<rect x="0" y="567" width="1" height="19" fill="#404040"/>
<rect x="1" y="568" width="1" height="18" fill="#fff"/>
<rect x="106" y="566" width="107" height="20" fill="#fff"/>
<rect x="105" y="567" width="1" height="19" fill="#000"/>
<rect x="213" y="567" width="1" height="19" fill="#000"/>
<rect x="105" y="585" width="109" height="1" fill="#000"/>
<rect x="104" y="568" width="1" height="18" fill="#fff"/>
<rect x="106" y="586" width="108" height="2" fill="#fff"/>
<text x="15.66" y="582" font-size="12.4" fill="#686868" stroke="#686868" stroke-width="0" textLength="78.75" lengthAdjust="spacingAndGlyphs">USDX,Weekly</text>
<text x="115.63" y="582" font-size="12.4" fill="#000" stroke="#000" stroke-width="0" textLength="85.59" lengthAdjust="spacingAndGlyphs">EURUSD-,Daily</text>
<text x="223.3" y="582" font-size="12.4" fill="#686868" stroke="#686868" stroke-width="0" textLength="86.12" lengthAdjust="spacingAndGlyphs">AUDUSD-,Daily</text>
<text x="332.7" y="582" font-size="12.4" fill="#686868" stroke="#686868" stroke-width="0" textLength="83.7" lengthAdjust="spacingAndGlyphs">USDCHF-,Daily</text>
<text x="439.58" y="582" font-size="12.4" fill="#686868" stroke="#686868" stroke-width="0" textLength="86.33" lengthAdjust="spacingAndGlyphs">USDCAD-,Daily</text>
<text x="548.57" y="582" font-size="12.4" fill="#686868" stroke="#686868" stroke-width="0" textLength="88.25" lengthAdjust="spacingAndGlyphs">USDCNH-,Daily</text>
<text x="660.16" y="582" font-size="12.4" fill="#686868" stroke="#686868" stroke-width="0" textLength="85.36" lengthAdjust="spacingAndGlyphs">XAUUSD-,Daily</text>
<text x="766.95" y="582" font-size="12.4" fill="#686868" stroke="#686868" stroke-width="0" textLength="82.32" lengthAdjust="spacingAndGlyphs">UKOil-,Weekly</text>
<text x="872.66" y="582" font-size="12.4" fill="#686868" stroke="#686868" stroke-width="0" textLength="68.14" lengthAdjust="spacingAndGlyphs">USOil-,Daily</text>
<text x="962.69" y="582" font-size="12.4" fill="#686868" stroke="#686868" stroke-width="0" textLength="55.28" lengthAdjust="spacingAndGlyphs">HK50-,H1</text>
<text x="1038.86" y="582" font-size="12.4" fill="#686868" stroke="#686868" stroke-width="0" textLength="71.18" lengthAdjust="spacingAndGlyphs">EURCHF-,H1</text>
<rect x="322" y="570" width="1" height="14" fill="#8a8a8a"/>
<rect x="429" y="570" width="1" height="14" fill="#8a8a8a"/>
<rect x="538" y="570" width="1" height="14" fill="#8a8a8a"/>
<rect x="650" y="570" width="1" height="14" fill="#8a8a8a"/>
<rect x="757" y="570" width="1" height="14" fill="#8a8a8a"/>
<rect x="862" y="570" width="1" height="14" fill="#8a8a8a"/>
<rect x="953" y="570" width="1" height="14" fill="#8a8a8a"/>
<rect x="1029" y="570" width="1" height="14" fill="#8a8a8a"/>
<rect x="1121" y="570" width="1" height="14" fill="#8a8a8a"/>
<clipPath id="cl"><rect x="1100" y="566" width="76.3" height="22"/></clipPath>
<text x="1132.15" y="582" font-size="12.4" fill="#686868" stroke="#686868" stroke-width="0" textLength="57.13" lengthAdjust="spacingAndGlyphs" clip-path="url(#cl)">USOil-,H1</text>
<polygon points="1181.7,576 1185.2,572.6 1185.2,579.4" fill="#8c8c8c" shape-rendering="geometricPrecision"/>
<polygon points="1204.4,576 1200.8,572.6 1200.8,579.4" fill="#000" shape-rendering="geometricPrecision"/>
</svg>
</body></html>
